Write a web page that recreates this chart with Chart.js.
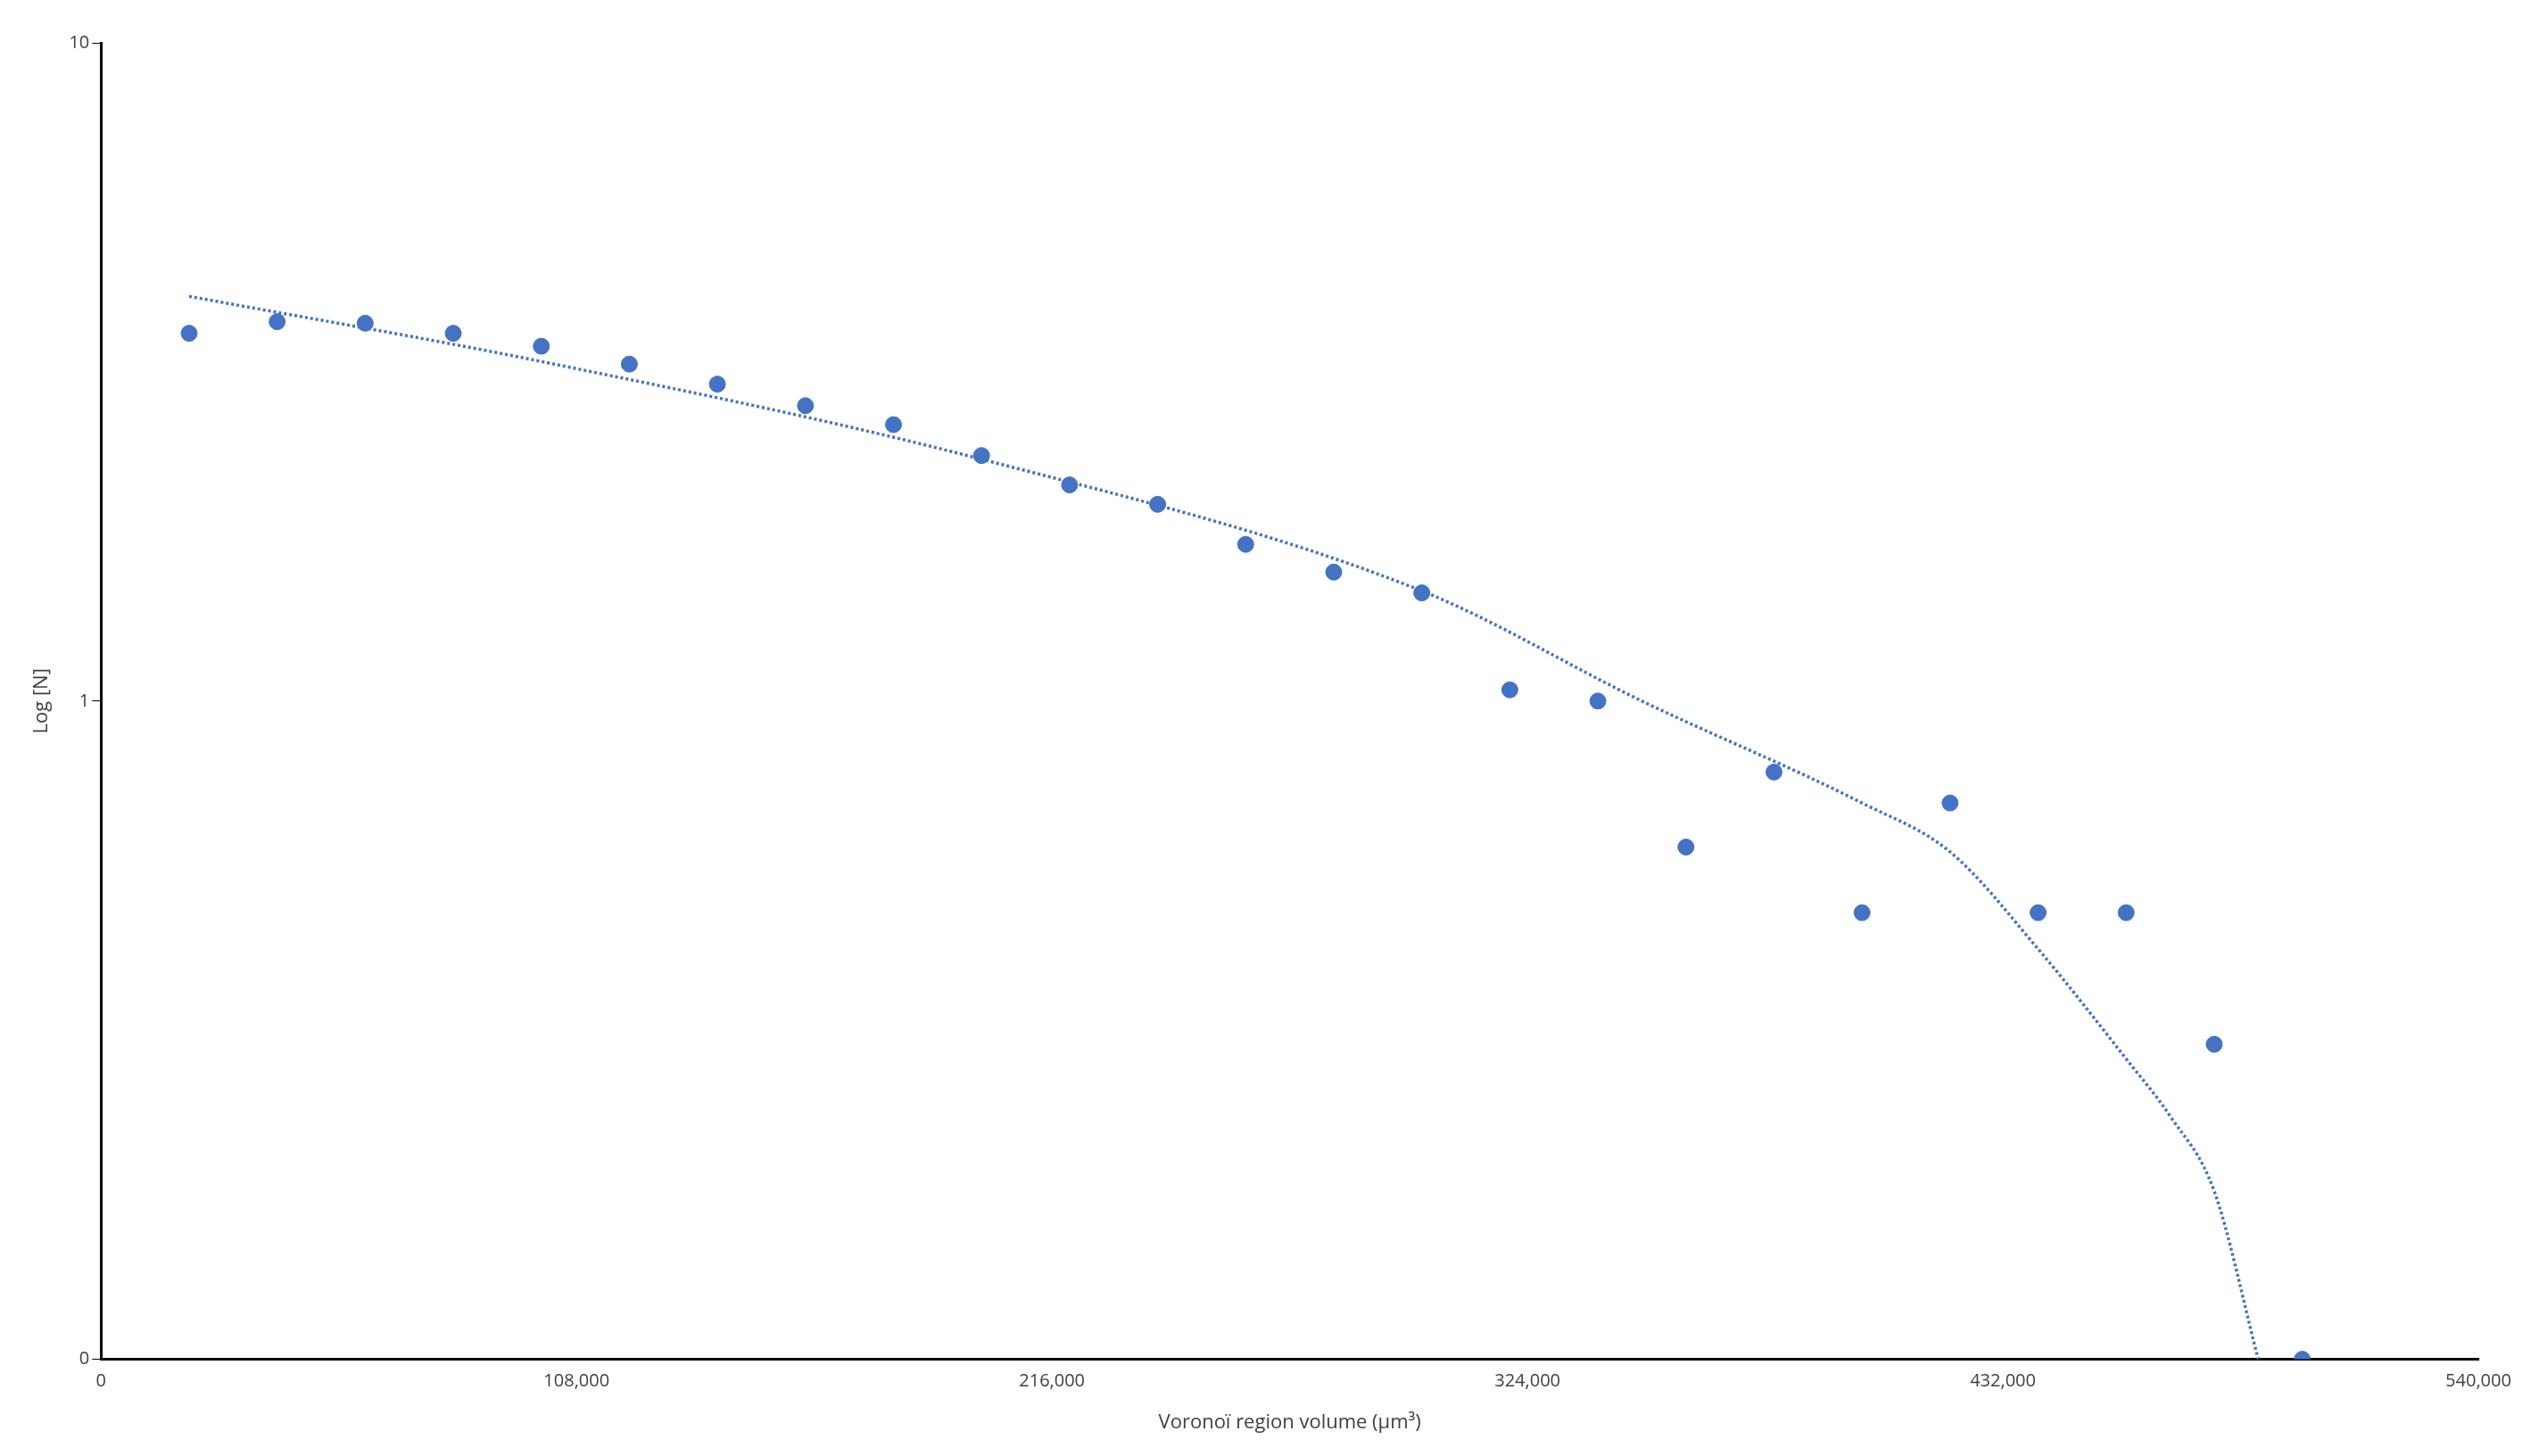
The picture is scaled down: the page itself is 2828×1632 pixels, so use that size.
<!DOCTYPE html>
<html>
<head>
<meta charset="utf-8">
<script src="https://cdn.jsdelivr.net/npm/chart.js@4/dist/chart.umd.min.js"></script>
<style>
  html, body { margin: 0; background: #fff; }
  #wrap { width: 2828px; height: 1632px; }
</style>
</head>
<body>
<div id="wrap"><canvas id="chart"></canvas></div>
<script>
// DATA
const volumes = [20000, 40000, 60000, 80000, 100000, 120000, 140000, 160000, 180000, 200000,
  220000, 240000, 260000, 280000, 300000, 320000, 340000, 360000, 380000, 400000,
  420000, 440000, 460000, 480000, 500000];
const logN = [3.62, 3.77, 3.75, 3.62, 3.46, 3.25, 3.03, 2.81, 2.63, 2.36,
  2.13, 1.99, 1.73, 1.57, 1.46, 1.04, 1.0, 0.60, 0.78, 0.477,
  0.70, 0.477, 0.477, 0.301, 0.1];
const trendX = [20000, 100000, 200000, 300000, 350000, 400000, 420000, 440000, 460000, 470000, 480000, 490000];
const trendY = [4.12, 3.28, 2.33, 1.47, 1.0, 0.70, 0.59, 0.42, 0.286, 0.234, 0.18, 0.1];
const yTicks = [0.1, 1, 10];
const yTickLabels = { 0.1: "0", 1: "1", 10: "10" };

const blue = "#4472C4";
const font = { family: "'Open Sans', 'Noto Sans', sans-serif", size: 20 };

new Chart(document.getElementById("chart"), {
  type: "scatter",
  data: {
    datasets: [
      {
        label: "Log [N]",
        data: volumes.map((v, i) => ({ x: v, y: logN[i] })),
        backgroundColor: blue,
        borderColor: blue,
        pointRadius: 9,
        order: 1,
      },
      {
        label: "Trend",
        type: "line",
        data: trendX.map((v, i) => ({ x: v, y: trendY[i] })),
        borderColor: blue,
        borderWidth: 3.5,
        borderDash: [3, 3],
        pointRadius: 0,
        cubicInterpolationMode: "monotone",
        fill: false,
        order: 2,
      },
    ],
  },
  options: {
    responsive: true,
    maintainAspectRatio: false,
    animation: false,
    layout: { padding: { top: 48, right: 50, bottom: 20, left: 30 } },
    plugins: { legend: { display: false }, tooltip: { enabled: false } },
    scales: {
      x: {
        type: "linear",
        min: 0,
        max: 540000,
        border: { color: "#000", width: 3 },
        grid: { display: false, drawOnChartArea: false, drawTicks: true, tickLength: 10, color: "#000" },
        ticks: {
          stepSize: 100000,
          color: "#404040",
          font: font,
          callback: (v) => v.toLocaleString("en-US"),
        },
        title: { display: true, text: "Voronoï region volume (µm³)", color: "#404040", font: { ...font, size: 22 }, padding: { top: 18 } },
      },
      y: {
        type: "logarithmic",
        min: 0.1,
        max: 10,
        border: { color: "#000", width: 3 },
        grid: { drawOnChartArea: false, drawTicks: true, tickLength: 10, color: "#000" },
        afterBuildTicks: (axis) => { axis.ticks = yTicks.map((v) => ({ value: v })); },
        ticks: {
          color: "#404040",
          font: font,
          callback: (v) => yTickLabels[v],
        },
        title: { display: true, text: "Log [N]", color: "#404040", font: { ...font, size: 22 }, padding: { bottom: 14 } },
      },
    },
  },
});
</script>
</body>
</html>
